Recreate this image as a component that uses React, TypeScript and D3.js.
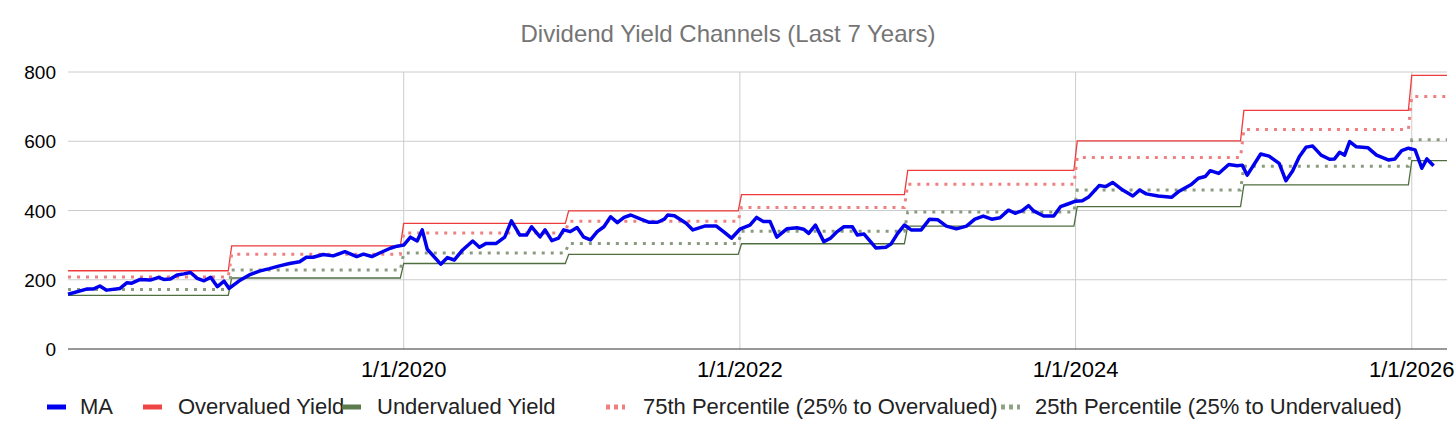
import React from "react";
import * as d3 from "d3";

const maYears = [2018.00,2018.11,2018.15,2018.19,2018.23,2018.31,2018.35,2018.38,2018.43,2018.49,2018.54,2018.57,2018.61,2018.65,2018.69,2018.73,2018.77,2018.81,2018.85,2018.89,2018.93,2018.96,2019.02,2019.08,2019.14,2019.20,2019.26,2019.32,2019.38,2019.42,2019.46,2019.52,2019.58,2019.65,2019.72,2019.76,2019.81,2019.86,2019.92,2019.96,2020.00,2020.04,2020.08,2020.11,2020.14,2020.22,2020.26,2020.30,2020.35,2020.41,2020.45,2020.49,2020.55,2020.60,2020.64,2020.69,2020.73,2020.76,2020.81,2020.84,2020.88,2020.92,2020.95,2020.99,2021.03,2021.07,2021.11,2021.15,2021.19,2021.23,2021.27,2021.31,2021.35,2021.41,2021.46,2021.51,2021.55,2021.57,2021.61,2021.68,2021.72,2021.79,2021.86,2021.91,2021.95,2022.00,2022.06,2022.10,2022.14,2022.18,2022.22,2022.28,2022.34,2022.38,2022.41,2022.45,2022.50,2022.54,2022.58,2022.62,2022.67,2022.70,2022.74,2022.81,2022.87,2022.90,2022.94,2022.98,2023.02,2023.08,2023.13,2023.18,2023.23,2023.29,2023.35,2023.40,2023.45,2023.50,2023.55,2023.60,2023.64,2023.68,2023.72,2023.75,2023.81,2023.87,2023.91,2023.95,2024.00,2024.04,2024.08,2024.14,2024.18,2024.22,2024.28,2024.34,2024.38,2024.42,2024.49,2024.57,2024.61,2024.69,2024.73,2024.77,2024.80,2024.85,2024.91,2024.96,2024.99,2025.02,2025.10,2025.15,2025.21,2025.25,2025.29,2025.33,2025.37,2025.41,2025.46,2025.51,2025.54,2025.57,2025.60,2025.63,2025.67,2025.74,2025.79,2025.86,2025.90,2025.94,2025.98,2026.02,2026.06,2026.09,2026.13];
const maValues = [158,173,173,182,170,175,191,190,201,199,207,201,202,214,217,221,204,197,207,180,196,175,197,214,225,232,240,247,252,265,265,273,269,281,267,274,267,278,291,297,300,323,312,344,288,245,264,257,286,312,294,305,305,323,370,329,329,353,324,344,313,320,344,339,351,323,315,339,353,382,365,380,387,375,366,366,375,387,385,363,344,355,355,336,320,346,358,380,368,368,323,347,350,346,334,358,310,320,339,353,353,329,332,292,294,303,334,358,344,344,375,373,355,347,355,375,384,375,379,401,392,399,414,399,384,384,411,418,427,428,440,472,469,481,459,442,459,448,442,438,454,476,493,498,515,507,533,529,531,502,563,557,536,486,514,555,583,586,560,548,549,568,560,599,584,581,560,546,549,573,580,575,522,549,529];

const stepYears = [2018.0, 2018.955, 2019.98, 2020.96, 2021.99, 2022.98, 2023.99, 2024.98, 2025.98];
const overValues = [226, 298, 363, 399, 446, 516, 601, 689, 790];
const p75Values = [208, 274, 335, 369, 409, 476, 553, 634, 729];
const p25Values = [172, 228, 277, 305, 340, 396, 459, 528, 604];
const underValues = [155, 205, 247, 273, 304, 355, 411, 474, 544];

const yTicks = [0, 200, 400, 600, 800];
const xTickLabels = ["1/1/2020", "1/1/2022", "1/1/2024", "1/1/2026"];
const xTickDates = [new Date(2020, 0, 1), new Date(2022, 0, 1), new Date(2024, 0, 1), new Date(2026, 0, 1)];
const endYear = 2026.21;

const toDate = (y: number) => {
  const yr = Math.floor(y);
  const a = new Date(yr, 0, 1).getTime();
  const b = new Date(yr + 1, 0, 1).getTime();
  return new Date(a + (b - a) * (y - yr));
};

const W = 1456, H = 440;
const L = 68, R = 1447, T = 72, B = 349;
const FONT = "Arial, 'Liberation Sans', sans-serif";

export default function App() {
  const x = d3.scaleTime().domain([toDate(2018.0), toDate(endYear)]).range([L, R]);
  const y = d3.scaleLinear().domain([0, 800]).range([B, T]);
  const line = d3.line<[Date, number]>().x(d => x(d[0])).y(d => y(d[1]));
  const stepPts = (vals: number[]): [Date, number][] => {
    const pts: [Date, number][] = [];
    vals.forEach((v, i) => {
      pts.push([toDate(stepYears[i] + (i === 0 ? 0 : 0.02)), v]);
      const end = i < vals.length - 1 ? stepYears[i + 1] : endYear;
      pts.push([toDate(end), v]);
    });
    return pts;
  };
  const maPts: [Date, number][] = maYears.map((yy, i) => [toDate(yy), maValues[i]]);
  const legend = [
    { label: "MA", color: "#0000ee", ix: 47, tx: 80, dash: null },
    { label: "Overvalued Yield", color: "#f04545", ix: 143, tx: 178, dash: null },
    { label: "Undervalued Yield", color: "#5b7a4e", ix: 342, tx: 377, dash: null },
    { label: "75th Percentile (25% to Overvalued)", color: "#f08080", ix: 606, tx: 643, dash: "4,4" },
    { label: "25th Percentile (25% to Undervalued)", color: "#8fa384", ix: 1001, tx: 1035, dash: "4,4" },
  ];
  return (
    <svg width={W} height={H} style={{ position: "absolute", left: 0, top: 0, background: "#fff" }} fontFamily={FONT}>
      <text x={728} y={42} textAnchor="middle" fontSize={24} fill="#757575">Dividend Yield Channels (Last 7 Years)</text>
      {yTicks.map(t => (
        <g key={t}>
          {t > 0 && <line x1={L} x2={R} y1={y(t)} y2={y(t)} stroke="#cccccc" strokeWidth={1} />}
          <text x={56} y={y(t) + 7} textAnchor="end" fontSize={19} fill="#000">{t}</text>
        </g>
      ))}
      {xTickDates.map((d, i) => (
        <g key={i}>
          <line x1={x(d)} x2={x(d)} y1={T} y2={B} stroke="#cccccc" strokeWidth={1} />
          <text x={x(d)} y={377} textAnchor="middle" fontSize={22} fill="#000">{xTickLabels[i]}</text>
        </g>
      ))}
      <line x1={L} x2={R} y1={B} y2={B} stroke="#333" strokeWidth={1} />
      <path d={line(stepPts(underValues)) || ""} fill="none" stroke="#4f6f41" strokeWidth={1.3} />
      <path d={line(stepPts(overValues)) || ""} fill="none" stroke="#ee3b3b" strokeWidth={1.3} />
      <path d={line(stepPts(p75Values)) || ""} fill="none" stroke="#f08080" strokeWidth={3} strokeDasharray="3,6" />
      <path d={line(stepPts(p25Values)) || ""} fill="none" stroke="#8a9c80" strokeWidth={3} strokeDasharray="3,6" />
      <path d={line(maPts) || ""} fill="none" stroke="#0000ee" strokeWidth={3.5} strokeLinejoin="round" />
      {legend.map(l => (
        <g key={l.label}>
          <line x1={l.ix} x2={l.ix + 19} y1={407} y2={407} stroke={l.color} strokeWidth={5} strokeDasharray={l.dash || undefined} />
          <text x={l.tx} y={414} fontSize={22} fill="#222">{l.label}</text>
        </g>
      ))}
    </svg>
  );
}
